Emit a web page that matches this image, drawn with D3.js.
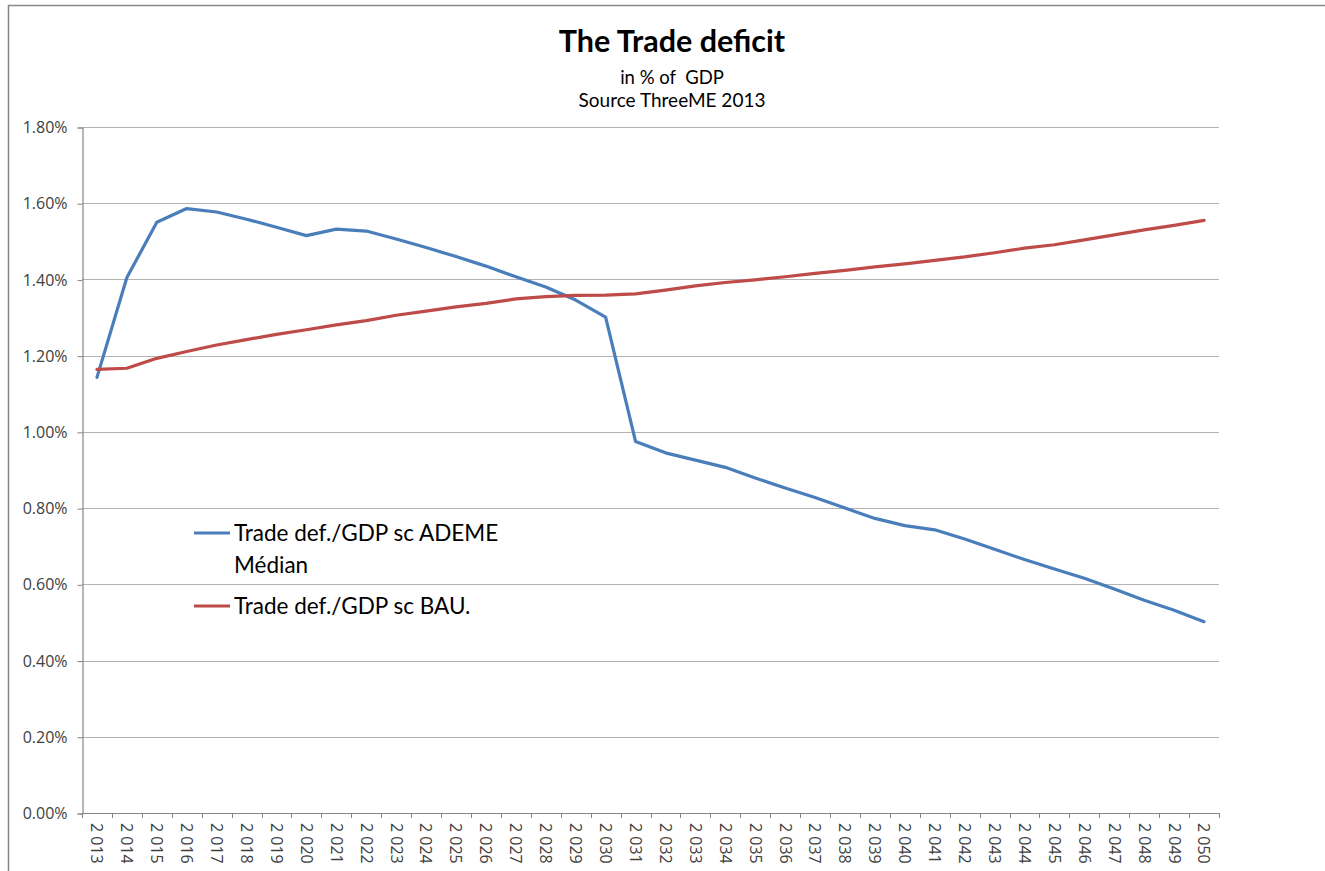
<!DOCTYPE html>
<html>
<head>
<meta charset="utf-8">
<script src="https://cdn.jsdelivr.net/npm/d3@7"></script>
<style>
  html, body { margin: 0; padding: 0; background: #fff; }
  svg { display: block; font-family: Lato, "Open Sans", sans-serif; }
</style>
</head>
<body>
<svg id="chart" width="1325" height="871"></svg>
<script>
// Years on the category axis
const years = d3.range(2013, 2051);

// Trade deficit as a share of GDP (fraction), ADEME median scenario
const ademeMedian = [
  0.01143, 0.01405, 0.01550, 0.01586, 0.01577, 0.01558, 0.01537, 0.01515, 0.01532, 0.01527,
  0.01506, 0.01484, 0.01460, 0.01435, 0.01407, 0.01380, 0.01346, 0.01301, 0.00975, 0.00945,
  0.00926, 0.00907, 0.00879, 0.00853, 0.00828, 0.00800, 0.00773, 0.00754, 0.00743, 0.00719,
  0.00692, 0.00665, 0.00640, 0.00616, 0.00588, 0.00558, 0.00532, 0.00502
];

// Trade deficit as a share of GDP (fraction), business-as-usual scenario
const bauScenario = [
  0.01164, 0.01167, 0.01193, 0.01211, 0.01228, 0.01242, 0.01256, 0.01268, 0.01281, 0.01292,
  0.01306, 0.01317, 0.01328, 0.01337, 0.01349, 0.01355, 0.01358, 0.01359, 0.01362, 0.01372,
  0.01383, 0.01392, 0.01399, 0.01407, 0.01416, 0.01424, 0.01433, 0.01441, 0.01450, 0.01459,
  0.01470, 0.01482, 0.01491, 0.01504, 0.01517, 0.01530, 0.01542, 0.01555
];

// Y axis tick values
const yTicks = [0, 0.002, 0.004, 0.006, 0.008, 0.010, 0.012, 0.014, 0.016, 0.018];

const seriesNames = ["Trade def./GDP sc ADEME", "Trade def./GDP sc BAU."];
const seriesColors = ["#4a7ebb", "#be4b48"];

const svg = d3.select("#chart");

// outer chart frame
svg.append("rect")
  .attr("x", 8.5).attr("y", 5.5)
  .attr("width", 1400).attr("height", 1000)
  .attr("fill", "none").attr("stroke", "#868686").attr("stroke-width", 1.5);

const plot = { left: 82, right: 1219, top: 127, bottom: 813 };

const x = d3.scaleBand().domain(years).range([plot.left, plot.right]).padding(0);
const y = d3.scaleLinear().domain([0, 0.018]).range([plot.bottom, plot.top]);
const cx = d => x(d) + x.bandwidth() / 2;

// horizontal gridlines
svg.append("g")
  .selectAll("line")
  .data(yTicks.filter(t => t > 0))
  .join("line")
  .attr("x1", plot.left).attr("x2", plot.right)
  .attr("y1", d => Math.round(y(d)) + 0.5).attr("y2", d => Math.round(y(d)) + 0.5)
  .attr("stroke", "#b3b3b3").attr("stroke-width", 1.2);

// Y axis
const yAxis = svg.append("g")
  .attr("transform", `translate(${plot.left + 0.5},0.5)`)
  .call(d3.axisLeft(y).tickValues(yTicks).tickFormat(d3.format(".2%")).tickSize(5).tickPadding(10));
yAxis.select(".domain").attr("stroke", "#868686").attr("stroke-width", 1.2);
yAxis.selectAll(".tick line").attr("stroke", "#868686");
yAxis.selectAll(".tick text")
  .attr("fill", "#404040")
  .style("font-family", "'Open Sans', sans-serif")
  .style("font-size", "16px");

// X axis: tick marks at category boundaries, labels at band centres
const xLoc = d3.formatLocale({ decimal: ".", thousands: " ", grouping: [3], currency: ["", ""] });
const yearFmt = xLoc.format(",");

const xAxis = svg.append("g");
xAxis.append("line")
  .attr("x1", plot.left).attr("x2", plot.right)
  .attr("y1", plot.bottom + 0.5).attr("y2", plot.bottom + 0.5)
  .attr("stroke", "#868686").attr("stroke-width", 1.2);
const bounds = years.map(d => x(d)).concat([x(years[years.length - 1]) + x.bandwidth()]);
xAxis.selectAll("line.tk")
  .data(bounds)
  .join("line")
  .attr("class", "tk")
  .attr("x1", d => Math.round(d) + 0.5).attr("x2", d => Math.round(d) + 0.5)
  .attr("y1", plot.bottom).attr("y2", plot.bottom + 5)
  .attr("stroke", "#868686");
xAxis.selectAll("text")
  .data(years)
  .join("text")
  .attr("transform", d => `translate(${cx(d)},${plot.bottom + 10}) rotate(90)`)
  .attr("dy", "0.35em")
  .attr("fill", "#404040")
  .style("font-family", "'Open Sans', sans-serif")
  .style("font-size", "16px")
  .text(d => yearFmt(d));

// series lines
const line = d3.line().x((d, i) => cx(years[i])).y(d => y(d));
[ademeMedian, bauScenario].forEach((vals, k) => {
  svg.append("path")
    .datum(vals)
    .attr("d", line)
    .attr("fill", "none")
    .attr("stroke", seriesColors[k])
    .attr("stroke-width", 3.2)
    .attr("stroke-linejoin", "round")
    .attr("stroke-linecap", "round");
});

// title block
const title = svg.append("g").attr("text-anchor", "middle").attr("fill", "#000");
title.append("text").attr("x", 672).attr("y", 52)
  .style("font-size", "30.5px").style("font-weight", "bold").text("The Trade deficit");
title.append("text").attr("x", 672).attr("y", 84)
  .style("font-size", "18.5px").attr("xml:space", "preserve").text("in % of  GDP");
title.append("text").attr("x", 672).attr("y", 107)
  .style("font-size", "19px").text("Source ThreeME 2013");

// legend
const legend = svg.append("g");
const legendRows = [
  { color: seriesColors[0], lines: [seriesNames[0], "Médian"], y: 533 },
  { color: seriesColors[1], lines: [seriesNames[1]], y: 606 }
];
legendRows.forEach(r => {
  legend.append("line")
    .attr("x1", 194).attr("x2", 230)
    .attr("y1", r.y).attr("y2", r.y)
    .attr("stroke", r.color).attr("stroke-width", 3);
  r.lines.forEach((t, i) => {
    legend.append("text")
      .attr("x", 234).attr("y", r.y + 8 + i * 32)
      .attr("fill", "#000")
      .style("font-size", "22.5px")
      .text(t);
  });
});
</script>
</body>
</html>
